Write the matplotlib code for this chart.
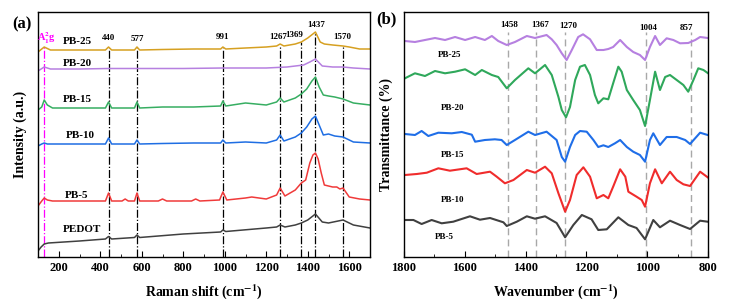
import matplotlib.pyplot as plt

plt.rcParams['font.family'] = ['Liberation Serif', 'DejaVu Serif']
plt.rcParams['font.weight'] = 'bold'
plt.rcParams['axes.labelweight'] = 'bold'
plt.rcParams['mathtext.fontset'] = 'stix'

# ---- (a) Raman spectra, heights (a.u.) ----
RAMAN_PB25_X = [100, 130, 160, 300, 425, 440, 455, 565, 577, 590, 700, 850, 980, 991, 1005, 1100,
                1200, 1250, 1267, 1285, 1340, 1369, 1400, 1437, 1460, 1480, 1520, 1570, 1600, 1650, 1700]
RAMAN_PB25_Y = [205, 210, 207, 207, 207, 210, 207, 207, 210, 207, 207.5, 208, 208, 210, 208, 209,
                210, 211, 213, 211, 213, 215, 219, 225, 215, 213, 212, 211, 210, 208, 208]

RAMAN_PB20_X = [100, 130, 160, 300, 440, 577, 800, 991, 1200, 1300, 1380, 1410, 1437, 1470, 1520,
                1570, 1620, 1700]
RAMAN_PB20_Y = [186, 190, 188, 188, 188.5, 188.5, 188.5, 189, 189, 190, 192, 195, 198, 191, 190,
                190, 189, 188]

RAMAN_PB15_X = [100, 118, 130, 145, 170, 300, 425, 440, 455, 565, 577, 590, 700, 850, 980, 991, 1005,
                1100, 1200, 1250, 1267, 1285, 1340, 1369, 1395, 1420, 1437, 1455, 1475, 1500, 1530,
                1570, 1620, 1700]
RAMAN_PB15_Y = [147, 150, 157, 152, 149, 149, 149, 155, 149, 149, 155, 149, 150, 150, 151, 156, 151,
                154, 152, 155, 159, 155, 159, 163, 168, 176, 180, 170, 162, 161, 160,
                158, 154, 152]

RAMAN_PB10_X = [100, 118, 130, 145, 170, 300, 425, 440, 455, 565, 577, 590, 700, 850, 980, 991, 1005,
                1100, 1200, 1250, 1267, 1285, 1340, 1369, 1395, 1420, 1437, 1455, 1475, 1500, 1530,
                1570, 1620, 1700]
RAMAN_PB10_Y = [111, 113, 114, 113, 113, 113, 113, 119, 113, 113, 117, 113, 113.5, 114, 114, 117, 114,
                115, 114, 117, 122, 116, 120, 124, 130, 138, 141, 132, 122, 123, 121,
                120, 115, 114]

RAMAN_PB5_X = [100, 118, 130, 145, 170, 300, 425, 440, 455, 505, 520, 535, 565, 577, 590, 680, 700,
               720, 840, 860, 880, 975, 991, 1010, 1100, 1130, 1200, 1250, 1267, 1290, 1340, 1369,
               1390, 1410, 1425, 1437, 1450, 1465, 1480, 1500, 1520, 1540, 1555, 1570, 1600, 1650, 1700]
RAMAN_PB5_Y = [51, 56, 59, 57, 56, 56, 56, 64, 56, 56, 58, 56, 56, 64, 56, 56, 58,
               56, 56, 58, 56, 57, 65, 57, 59, 60, 58, 62, 69, 61, 67, 74,
               77, 94, 102, 104, 98, 84, 72, 71, 70, 70, 68, 69, 60, 58, 57]

RAMAN_PEDOT_X = [100, 115, 130, 150, 300, 425, 440, 455, 565, 577, 590, 800, 980, 991, 1005, 1200,
                 1250, 1267, 1290, 1340, 1369, 1400, 1437, 1470, 1500, 1570, 1620, 1700]
RAMAN_PEDOT_Y = [6, 10, 13, 14, 16, 18, 20.5, 18, 19.5, 22, 19.5, 23, 25, 27, 25.5, 29,
                 30, 32, 30, 32, 34, 37, 43, 35, 34, 37, 32, 29]

RAMAN_PEAKS = [440, 577, 991, 1267, 1369, 1437, 1570]
RAMAN_PEAK_TOPS = [209, 209, 209, 212, 215, 225, 211]
RAMAN_PEAK_LABEL_X = [440, 580, 991, 1257, 1334, 1440, 1568]
RAMAN_PEAK_LABEL_Y = [219, 218, 220, 220, 222, 232, 220]
A1G_POS = 130

RAMAN_NAMES = ['PB-25', 'PB-20', 'PB-15', 'PB-10', 'PB-5', 'PEDOT']
RAMAN_LABEL_X = [288, 288, 288, 302, 288, 312]
RAMAN_LABEL_Y = [216, 194, 158, 121, 62, 27]

# ---- (b) FTIR spectra ----
FTIR_PB25_X = [1797, 1764, 1731, 1698, 1665, 1632, 1599, 1566, 1534, 1511, 1490, 1462, 1435, 1396,
               1369, 1331, 1314, 1298, 1281, 1265, 1248, 1227, 1211, 1188, 1166, 1144, 1128, 1112,
               1089, 1067, 1046, 1024, 1007, 991, 974, 958, 936, 914, 892, 865, 842, 826, 801]
FTIR_PB25_Y = [216, 215, 217, 219, 217, 220, 217, 220, 217, 221, 216, 212, 215, 221,
               219, 222, 217.7, 212, 203.7, 197, 207, 220, 222.7, 217.7, 207, 207, 208, 210,
               217, 210, 205, 202, 197, 210, 221, 212, 218.7, 217, 213.7, 214, 217, 220, 219]

FTIR_PB20_X = [1797, 1764, 1731, 1698, 1665, 1632, 1599, 1566, 1544, 1511, 1490, 1462, 1435, 1391,
               1369, 1336, 1314, 1292, 1281, 1267, 1254, 1237, 1221, 1205, 1188, 1172, 1161, 1144,
               1128, 1112, 1095, 1084, 1067, 1046, 1024, 1007, 991, 974, 958, 941, 925, 903, 881,
               865, 848, 832, 815, 801]
FTIR_PB20_Y = [178.7, 183.7, 181, 186, 183.7, 185.3, 187.7, 182, 187, 182, 180, 168.7, 177, 188.7,
               183.7, 192, 182, 160, 147, 139.7, 150, 177, 190.3, 192, 182, 162, 153.7, 158.7,
               157.7, 173.7, 190.3, 185.3, 167, 157, 147, 131, 157, 185.3, 167, 180, 182, 177, 172,
               165.3, 177, 188.7, 187, 184]

FTIR_PB15_X = [1797, 1764, 1742, 1720, 1687, 1643, 1610, 1577, 1566, 1534, 1501, 1479, 1462, 1435,
               1391, 1369, 1331, 1298, 1281, 1270, 1254, 1237, 1221, 1199, 1177, 1161, 1144, 1128,
               1106, 1089, 1067, 1046, 1024, 1007, 991, 980, 958, 936, 903, 875, 859, 826, 801]
FTIR_PB15_Y = [123, 122, 126, 121, 124.3, 123.7, 125, 122.3, 115.3, 117, 117.7, 117, 112, 117,
               125.3, 122, 125.3, 117, 100, 95.3, 110, 122, 126, 125.3, 117, 110, 111.7, 110,
               113.7, 117, 110, 105.3, 102, 95.3, 117, 123.7, 112, 120, 120, 117, 113, 124.3, 122]

FTIR_PB10_X = [1797, 1758, 1725, 1687, 1649, 1594, 1561, 1517, 1495, 1468, 1440, 1396, 1369, 1336,
               1314, 1292, 1270, 1254, 1232, 1210, 1188, 1166, 1144, 1128, 1112, 1089, 1072, 1062,
               1035, 1018, 1007, 991, 974, 952, 925, 903, 881, 859, 826, 801]
FTIR_PB10_Y = [82, 83, 84.3, 88.7, 86.3, 88.7, 83, 85.3, 80.3, 73.7, 77, 87, 84.3, 90.3,
               83.7, 63.7, 45.3, 57, 82, 89.7, 80.3, 58.7, 62, 58.7, 70.3, 87.7, 80.3, 65.3,
               60.3, 57, 50.3, 73.7, 87.7, 73.7, 85.3, 77, 72.7, 71, 85.3, 79.7]

FTIR_PB5_X = [1797, 1769, 1742, 1709, 1676, 1638, 1583, 1550, 1517, 1473, 1462, 1429, 1396, 1369,
              1336, 1298, 1270, 1243, 1215, 1183, 1161, 1133, 1095, 1062, 1035, 1007, 980, 958, 925,
              892, 859, 826, 801]
FTIR_PB5_Y = [37, 37, 33, 37, 33.7, 35.3, 40.7, 37.3, 39, 34.7, 31, 35.3, 40.7, 38.3,
              40.7, 34, 19.7, 32, 42, 37.7, 27, 27.7, 39.7, 32, 29, 17.7, 37, 29.7, 36.3,
              32, 28, 36.3, 35.3]

FTIR_PEAKS = [1458, 1367, 1270, 1004, 857]
FTIR_PEAK_LABEL_X = [1453, 1353, 1259, 996, 870]
FTIR_PEAK_LABEL_Y = [232, 232, 231, 229, 229]

FTIR_NAMES = ['PB-25', 'PB-20', 'PB-15', 'PB-10', 'PB-5']
FTIR_LABEL_X = [1649, 1640, 1640, 1640, 1666]
FTIR_LABEL_Y = [202, 149, 102, 57, 20]

RAMAN_COLORS = ['#D6A021', '#B680E0', '#37AE62', '#1F6EE3', '#F03A3A', '#404040']
FTIR_COLORS = ['#B680E0', '#2FA85B', '#1F6EE8', '#F02C2C', '#404040']

fig = plt.figure(figsize=(7.29, 3.08), dpi=100)
ax_a = fig.add_axes([38 / 729, 51 / 308, 332 / 729, 245 / 308])
ax_b = fig.add_axes([404 / 729, 51 / 308, 304 / 729, 245 / 308])

# panel (a)
raman_x = [RAMAN_PB25_X, RAMAN_PB20_X, RAMAN_PB15_X, RAMAN_PB10_X, RAMAN_PB5_X, RAMAN_PEDOT_X]
raman_y = [RAMAN_PB25_Y, RAMAN_PB20_Y, RAMAN_PB15_Y, RAMAN_PB10_Y, RAMAN_PB5_Y, RAMAN_PEDOT_Y]
for xs, ys, c in zip(raman_x, raman_y, RAMAN_COLORS):
    ax_a.plot(xs, ys, c=c, lw=1.1)

for pos, top in zip(RAMAN_PEAKS, RAMAN_PEAK_TOPS):
    ax_a.plot([pos, pos], [0, top], c='black', lw=0.9, ls='-.', zorder=1)
for lx, ly, pos in zip(RAMAN_PEAK_LABEL_X, RAMAN_PEAK_LABEL_Y, RAMAN_PEAKS):
    ax_a.text(lx, ly, str(pos), ha='center', va='center', fontsize=6.5)
ax_a.plot([A1G_POS, A1G_POS], [0, 212], c='magenta', lw=0.9, ls='-.', zorder=1)
ax_a.text(A1G_POS + 10, 219, r'A$_1^2$g', color='magenta', ha='center', va='center', fontsize=7.5)

for name, lx, ly in zip(RAMAN_NAMES, RAMAN_LABEL_X, RAMAN_LABEL_Y):
    ax_a.text(lx, ly, name, ha='center', va='center', fontsize=8)

ax_a.set_xlim(100, 1700)
ax_a.set_ylim(0, 245)
ax_a.set_xticks([200, 400, 600, 800, 1000, 1200, 1400, 1600])
ax_a.set_xticks(range(100, 1701, 100), minor=True)
ax_a.set_yticks([])
ax_a.set_xlabel('Raman shift (cm$^{-1}$)', fontsize=10, labelpad=6)
ax_a.set_ylabel('Intensity (a.u.)', fontsize=10, labelpad=8)
ax_a.text(-0.048, 0.951, '(a)', transform=ax_a.transAxes, fontsize=12, ha='center', va='center')

# panel (b)
ftir_x = [FTIR_PB25_X, FTIR_PB20_X, FTIR_PB15_X, FTIR_PB10_X, FTIR_PB5_X]
ftir_y = [FTIR_PB25_Y, FTIR_PB20_Y, FTIR_PB15_Y, FTIR_PB10_Y, FTIR_PB5_Y]
for xs, ys, c in zip(ftir_x, ftir_y, FTIR_COLORS):
    ax_b.plot(xs, ys, c=c, lw=1.5)

for pos in FTIR_PEAKS:
    ax_b.plot([pos, pos], [0, 225], c='#A8A8A8', lw=1.0, ls=(0, (5, 3)), zorder=1)
for lx, ly, pos in zip(FTIR_PEAK_LABEL_X, FTIR_PEAK_LABEL_Y, FTIR_PEAKS):
    ax_b.text(lx, ly, str(pos), ha='center', va='center', fontsize=6.5)
for name, lx, ly in zip(FTIR_NAMES, FTIR_LABEL_X, FTIR_LABEL_Y):
    ax_b.text(lx, ly, name, ha='center', va='center', fontsize=6.5)

ax_b.set_xlim(1800, 800)
ax_b.set_ylim(0, 245)
ax_b.set_xticks([1800, 1600, 1400, 1200, 1000, 800])
ax_b.set_xticks(range(800, 1801, 100), minor=True)
ax_b.set_yticks([])
ax_b.set_xlabel('Wavenumber (cm$^{-1}$)', fontsize=10, labelpad=6)
ax_b.set_ylabel('Transmittance (%)', fontsize=10, labelpad=8)
ax_b.text(-0.059, 0.97, '(b)', transform=ax_b.transAxes, fontsize=12, ha='center', va='center')

for ax in (ax_a, ax_b):
    ax.tick_params(axis='x', which='both', direction='in', labelsize=9, top=False)
    ax.tick_params(axis='x', which='major', length=4)
    ax.tick_params(axis='x', which='minor', length=2.5)
    for s in ax.spines.values():
        s.set_linewidth(1.0)

fig.savefig('out.png', dpi=100)
